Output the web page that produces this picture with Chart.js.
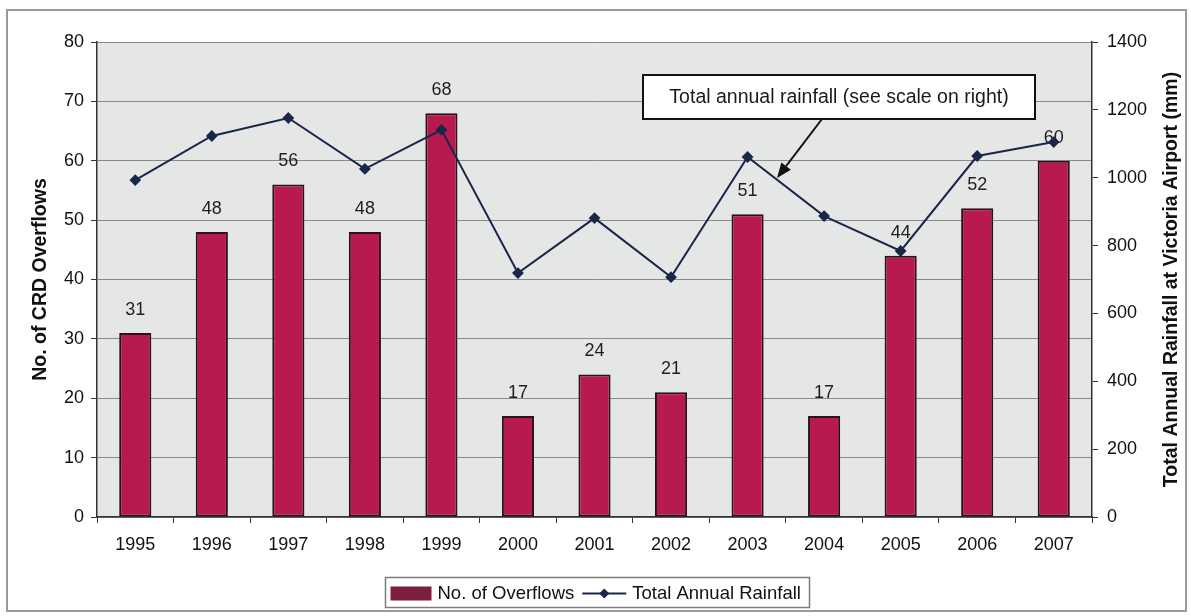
<!DOCTYPE html>
<html>
<head>
<meta charset="utf-8">
<script src="https://cdn.jsdelivr.net/npm/chart.js@4/dist/chart.umd.min.js"></script>
<style>
  html, body { margin: 0; padding: 0; background: #ffffff; }
  #wrap { width: 1191px; height: 616px; position: relative; }
  canvas { display: block; }
</style>
</head>
<body>
<div id="wrap"><canvas id="c" width="1191" height="616"></canvas></div>
<script>
// Years on the category axis
const years = ['1995', '1996', '1997', '1998', '1999', '2000', '2001', '2002', '2003', '2004', '2005', '2006', '2007'];
// Number of CRD sewer overflows per year (left scale)
const overflows = [31, 48, 56, 48, 68, 17, 24, 21, 51, 17, 44, 52, 60];
// Total annual rainfall at Victoria Airport, mm (right scale)
const rainfall = [993, 1123, 1176, 1026, 1141, 719, 881, 707, 1061, 887, 784, 1064, 1105];

const leftAxisTitle = 'No. of CRD Overflows';
const rightAxisTitle = 'Total Annual Rainfall at Victoria Airport (mm)';
const calloutText = 'Total annual rainfall (see scale on right)';
const legendBarLabel = 'No. of Overflows';
const legendLineLabel = 'Total Annual Rainfall';

const FONT = "'Liberation Sans', Arial, sans-serif";
const BAR_COLOR = '#b81a4d';
const BAR_EDGE = '#2a1219';
const LINE_COLOR = '#1b2748';
const AXIS_COLOR = '#333333';
const GRID_COLOR = '#8a8a8a';
const TICK_SIZE = 18;

// Grey plot background and outer frame
const backdrop = {
  id: 'backdrop',
  beforeDraw(chart) {
    const { ctx, chartArea: a } = chart;
    ctx.save();
    ctx.fillStyle = '#ffffff';
    ctx.fillRect(0, 0, chart.width, chart.height);
    ctx.fillStyle = '#e5e7e7';
    ctx.fillRect(a.left, a.top, a.right - a.left, a.bottom - a.top);
    ctx.strokeStyle = '#9a9a9a';
    ctx.lineWidth = 2;
    ctx.strokeRect(7, 10, 1179, 601);
    ctx.restore();
  }
};

// Value labels above each bar (drawn before the line so markers sit on top)
const barValues = {
  id: 'barValues',
  afterDatasetDraw(chart, args) {
    if (args.index !== 0) return;
    const { ctx } = chart;
    const meta = args.meta;
    ctx.save();
    ctx.font = TICK_SIZE + 'px ' + FONT;
    ctx.fillStyle = '#1e1e1e';
    ctx.textAlign = 'center';
    ctx.textBaseline = 'middle';
    meta.data.forEach((bar, i) => {
      ctx.fillText(String(overflows[i]), bar.x, bar.y - 23);
    });
    ctx.restore();
  }
};

// Callout box with arrow, right axis title and legend
const extras = {
  id: 'extras',
  afterDraw(chart) {
    const { ctx, chartArea: a } = chart;
    ctx.save();

    // callout box
    const bx = 643, by = 75, bw = 392, bh = 44;
    ctx.fillStyle = '#ffffff';
    ctx.fillRect(bx, by, bw, bh);
    ctx.strokeStyle = '#111111';
    ctx.lineWidth = 2;
    ctx.strokeRect(bx, by, bw, bh);
    ctx.fillStyle = '#1a1a1a';
    ctx.font = '19.5px ' + FONT;
    ctx.textAlign = 'center';
    ctx.textBaseline = 'middle';
    ctx.fillText(calloutText, bx + bw / 2, by + bh / 2 + 1);

    // arrow from the box down to the rainfall line
    const x0 = 822, y0 = 119, x1 = 777, y1 = 178;
    const ang = Math.atan2(y1 - y0, x1 - x0);
    const hl = 15, hw = 6;
    const baseX = x1 - hl * Math.cos(ang), baseY = y1 - hl * Math.sin(ang);
    ctx.strokeStyle = '#111111';
    ctx.lineWidth = 2;
    ctx.beginPath();
    ctx.moveTo(x0, y0);
    ctx.lineTo(baseX, baseY);
    ctx.stroke();
    ctx.fillStyle = '#111111';
    ctx.beginPath();
    ctx.moveTo(x1, y1);
    ctx.lineTo(baseX + hw * Math.sin(ang), baseY - hw * Math.cos(ang));
    ctx.lineTo(baseX - hw * Math.sin(ang), baseY + hw * Math.cos(ang));
    ctx.closePath();
    ctx.fill();

    // right axis title, reading bottom to top
    ctx.save();
    ctx.translate(1172, (a.top + a.bottom) / 2);
    ctx.rotate(-Math.PI / 2);
    ctx.font = 'bold 19.5px ' + FONT;
    ctx.fillStyle = '#111111';
    ctx.textAlign = 'center';
    ctx.textBaseline = 'middle';
    ctx.fillText(rightAxisTitle, 0, 0);
    ctx.restore();

    // legend
    ctx.font = '18.5px ' + FONT;
    const w1 = ctx.measureText(legendBarLabel).width;
    const w2 = ctx.measureText(legendLineLabel).width;
    const swW = 41, lineW = 44, gap = 6;
    const content = swW + gap + w1 + 8 + lineW + gap + w2;
    const lw = Math.round(content + 14);
    const lx = Math.round(597 - lw / 2) + 0.5;
    const ly = 577.5, lh = 30;
    ctx.fillStyle = '#ffffff';
    ctx.fillRect(lx, ly, lw, lh);
    ctx.strokeStyle = '#7c7c7c';
    ctx.lineWidth = 1.5;
    ctx.strokeRect(lx, ly, lw, lh);
    const cy = ly + lh / 2 + 1;
    let x = lx + 5;
    ctx.fillStyle = '#7c1f3e';
    ctx.fillRect(x, cy - 7, swW, 14);
    x += swW + gap;
    ctx.fillStyle = '#111111';
    ctx.textAlign = 'left';
    ctx.textBaseline = 'middle';
    ctx.fillText(legendBarLabel, x, cy);
    x += w1 + 8;
    ctx.strokeStyle = LINE_COLOR;
    ctx.lineWidth = 2;
    ctx.beginPath();
    ctx.moveTo(x, cy);
    ctx.lineTo(x + lineW, cy);
    ctx.stroke();
    ctx.fillStyle = LINE_COLOR;
    ctx.beginPath();
    const dx = x + lineW / 2;
    ctx.moveTo(dx, cy - 5);
    ctx.lineTo(dx + 5, cy);
    ctx.lineTo(dx, cy + 5);
    ctx.lineTo(dx - 5, cy);
    ctx.closePath();
    ctx.fill();
    x += lineW + gap;
    ctx.fillStyle = '#111111';
    ctx.fillText(legendLineLabel, x, cy);

    ctx.restore();
  }
};

new Chart(document.getElementById('c'), {
  data: {
    labels: years,
    datasets: [
      {
        type: 'bar',
        label: legendBarLabel,
        data: overflows,
        yAxisID: 'y',
        backgroundColor: BAR_COLOR,
        borderColor: BAR_EDGE,
        borderWidth: 2,
        borderSkipped: false,
        barPercentage: 0.42,
        categoryPercentage: 1.0,
        order: 2
      },
      {
        type: 'line',
        label: legendLineLabel,
        data: rainfall,
        yAxisID: 'y1',
        borderColor: LINE_COLOR,
        borderWidth: 2,
        backgroundColor: LINE_COLOR,
        pointStyle: 'rectRot',
        pointRadius: 4.5,
        pointBackgroundColor: LINE_COLOR,
        pointBorderColor: LINE_COLOR,
        tension: 0,
        fill: false,
        order: 1
      }
    ]
  },
  options: {
    responsive: false,
    animation: false,
    events: [],
    layout: { padding: { left: 0, right: 0, top: 42, bottom: 0 } },
    plugins: {
      legend: { display: false },
      tooltip: { enabled: false },
      title: { display: false }
    },
    scales: {
      x: {
        type: 'category',
        offset: true,
        grid: {
          offset: true,
          drawOnChartArea: false,
          drawTicks: true,
          tickLength: 6,
          tickColor: AXIS_COLOR
        },
        border: { display: true, color: AXIS_COLOR, width: 1.5 },
        ticks: {
          color: '#111111',
          font: { family: FONT, size: TICK_SIZE },
          padding: 11,
          maxRotation: 0,
          autoSkip: false
        },
        afterFit(scale) { scale.height = 99; }
      },
      y: {
        position: 'left',
        min: 0,
        max: 80,
        ticks: {
          stepSize: 10,
          color: '#111111',
          font: { family: FONT, size: TICK_SIZE },
          padding: 7
        },
        grid: {
          color: GRID_COLOR,
          lineWidth: 1,
          tickLength: 6,
          tickColor: AXIS_COLOR
        },
        border: { display: true, color: AXIS_COLOR, width: 1.5 },
        title: {
          display: true,
          text: leftAxisTitle,
          color: '#111111',
          font: { family: FONT, size: 19.5, weight: 'bold' },
          padding: { top: 29, bottom: 0 }
        },
        afterFit(scale) { scale.width = 97; }
      },
      y1: {
        position: 'right',
        min: 0,
        max: 1400,
        ticks: {
          stepSize: 200,
          color: '#111111',
          font: { family: FONT, size: TICK_SIZE },
          padding: 9,
          callback: (v) => String(v)
        },
        grid: {
          drawOnChartArea: false,
          tickLength: 6,
          tickColor: AXIS_COLOR
        },
        border: { display: true, color: AXIS_COLOR, width: 1.5 },
        afterFit(scale) { scale.width = 99; }
      }
    }
  },
  plugins: [backdrop, barValues, extras]
});
</script>
</body>
</html>
